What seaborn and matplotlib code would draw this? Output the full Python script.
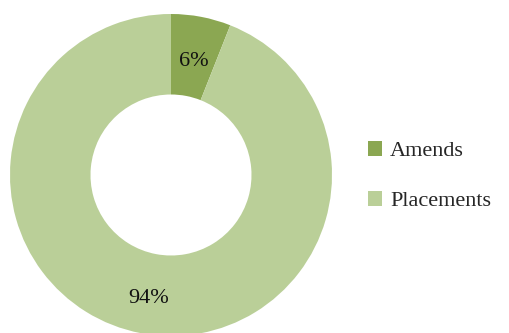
import matplotlib
matplotlib.use("Agg")
import matplotlib.pyplot as plt
import matplotlib.transforms as mtransforms
import seaborn as sns
from matplotlib.patches import Patch

categories = ["Amends", "Placements"]
shares = [6, 94]
colors = ["#8BA752", "#BACF98"]

sns.set_style("white")
plt.rcParams["font.family"] = ["Liberation Serif", "DejaVu Serif"]

W, H = 510, 333
fig = plt.figure(figsize=(W / 100, H / 100), dpi=100)
cx, cy, R = 171, 175, 161
ax = fig.add_axes([(cx - R) / W, (H - cy - R) / H, 2 * R / W, 2 * R / H])

wedges, texts = ax.pie(
    shares,
    colors=colors,
    startangle=90,
    counterclock=False,
    radius=1,
    labels=[f"{v}%" for v in shares],
    labeldistance=0.75,
    wedgeprops=dict(width=0.5, linewidth=0),
    textprops=dict(fontsize=16, color="#111111", ha="center", va="center"),
)
ax.set_xlim(-1, 1)
ax.set_ylim(-1, 1)
ax.axis("off")
for w in wedges:
    w.set_clip_on(False)

# nudge the percentage labels slightly downward
nudge = mtransforms.ScaledTranslation(0, -0.05, fig.dpi_scale_trans)
for t in texts:
    t.set_transform(ax.transData + nudge)

handles = [Patch(facecolor=c, edgecolor="none", label=l) for c, l in zip(colors, categories)]
fig.legend(
    handles=handles,
    loc="center left",
    bbox_to_anchor=(348 / W, 1 - 176 / H),
    frameon=False,
    fontsize=16,
    handlelength=0.65,
    handleheight=0.65,
    handletextpad=0.35,
    labelspacing=1.35,
)

fig.savefig("out.png", dpi=100)
